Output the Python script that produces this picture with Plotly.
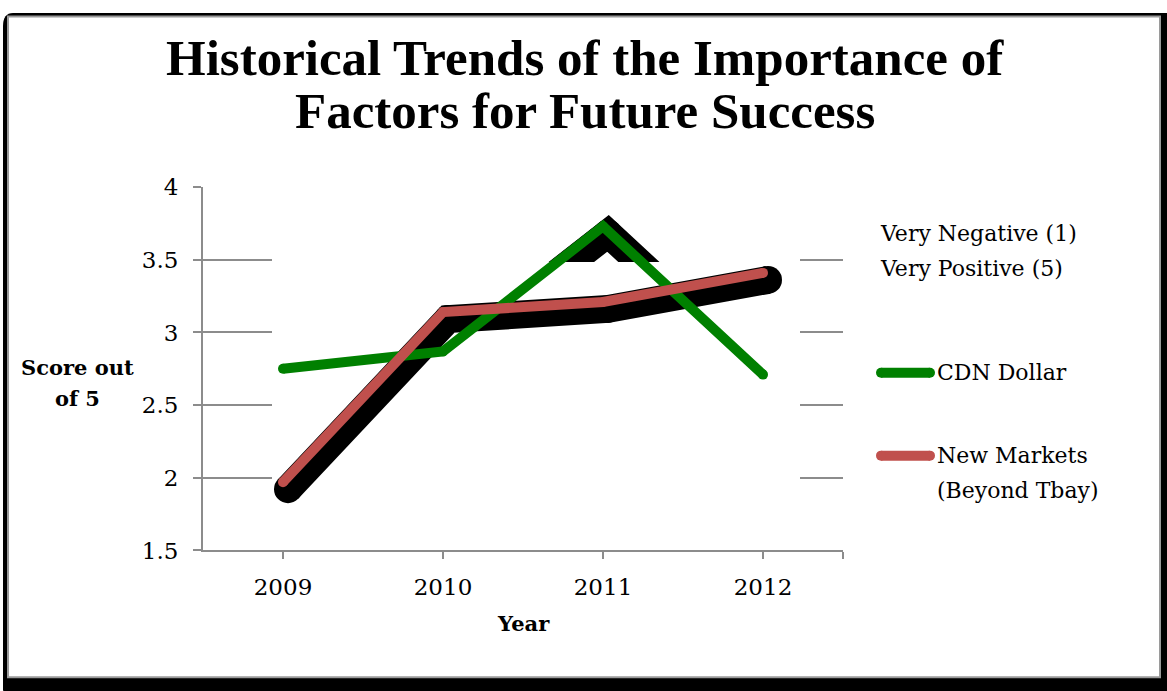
import plotly.graph_objects as go

# ---- data ----
years = [2009, 2010, 2011, 2012]
cdn_dollar = [2.75, 2.87, 3.73, 2.71]
new_markets = [1.97, 3.14, 3.21, 3.41]
y_tick_vals = [1.5, 2, 2.5, 3, 3.5, 4]
y_tick_text = ["1.5", "2", "2.5", "3", "3.5", "4"]
x_tick_text = ["2009", "2010", "2011", "2012"]
series_names = ["CDN Dollar", "New Markets", "(Beyond Tbay)"]
scale_note = ["Very Negative (1)", "Very Positive (5)"]
title_lines = ["Historical Trends of the Importance of", "Factors for Future Success"]

# ---- geometry ----
# positions below are given in screen pixels; SCREEN_Y_OFF / SCREEN_Y_SCALE
# convert a screen row into a row of the figure canvas
W = 1167
FIG_H = 705
SCREEN_Y_OFF = 12.5
SCREEN_Y_SCALE = 0.965
PL, PR, PT, PB = 203, 843, 187, 551
X_RANGE = [2008.5, 2012.5]
Y_RANGE = [1.5, 4.0]

GREEN = "#008000"
RED = "#C0504D"
GRAY = "#8C8C8C"
SERIF = "DejaVu Serif"
SERIF_TITLE = "Liberation Serif"


def px(x):
    return x / W


def py(y):
    fig_row = (y - SCREEN_Y_OFF) / SCREEN_Y_SCALE
    return min(1.0, 1 - fig_row / FIG_H)


x_per_px = (X_RANGE[1] - X_RANGE[0]) / (PR - PL)
y_per_px = (Y_RANGE[1] - Y_RANGE[0]) / (PB - PT)

# drop shadow: offset right and down, wider than the line
SH_DX, SH_DY = 5 * x_per_px, -7 * y_per_px
SH_W = 28
LINE_W = 10
shadow_x = [x + SH_DX for x in years]
cdn_shadow_y = [v + SH_DY for v in cdn_dollar]
nm_shadow_y = [v + SH_DY for v in new_markets]

# the CDN Dollar shadow only shows above this level
clip_px = 262
clip_val = Y_RANGE[1] - (clip_px - PT) * y_per_px

fig = go.Figure()

# shadow under New Markets
fig.add_trace(go.Scatter(
    x=shadow_x, y=nm_shadow_y, mode="lines+markers",
    line=dict(color="black", width=SH_W), marker=dict(color="black", size=SH_W),
    hoverinfo="skip", showlegend=False, xaxis="x", yaxis="y"))
# CDN Dollar
fig.add_trace(go.Scatter(
    x=years, y=cdn_dollar, mode="lines+markers", name="CDN Dollar",
    line=dict(color=GREEN, width=LINE_W), marker=dict(color=GREEN, size=LINE_W),
    showlegend=False, xaxis="x", yaxis="y"))
# New Markets
fig.add_trace(go.Scatter(
    x=years, y=new_markets, mode="lines+markers", name="New Markets (Beyond Tbay)",
    line=dict(color=RED, width=LINE_W), marker=dict(color=RED, size=LINE_W),
    showlegend=False, xaxis="x", yaxis="y"))

# upper band: CDN Dollar shadow (clipped) with the line redrawn on top
fig.add_trace(go.Scatter(
    x=shadow_x, y=cdn_shadow_y, mode="lines+markers",
    line=dict(color="black", width=SH_W), marker=dict(color="black", size=SH_W),
    hoverinfo="skip", showlegend=False, xaxis="x2", yaxis="y2"))
fig.add_trace(go.Scatter(
    x=years, y=cdn_dollar, mode="lines+markers",
    line=dict(color=GREEN, width=LINE_W), marker=dict(color=GREEN, size=LINE_W),
    hoverinfo="skip", showlegend=False, xaxis="x2", yaxis="y2"))

shapes = []
# outer frame: black backing with rounded left corners, white panel with grey edge
r = 10
x0, y0, x1, y1 = 3, 0, W, 700
frame_path = (
    f"M {px(x0 + r)},{py(y0)} L {px(x1)},{py(y0)} L {px(x1)},{py(y1)} "
    f"L {px(x0 + r)},{py(y1)} Q {px(x0)},{py(y1)} {px(x0)},{py(y1 - r)} "
    f"L {px(x0)},{py(16 + r)} Q {px(x0)},{py(y0)} {px(x0 + r)},{py(y0)} Z"
)
shapes.append(dict(type="path", path=frame_path, xref="paper", yref="paper",
                   fillcolor="black", line=dict(width=0), layer="below"))
shapes.append(dict(type="rect", xref="paper", yref="paper",
                   x0=px(8), x1=px(1160), y0=py(678), y1=py(16),
                   fillcolor="white", line=dict(color="#9A9A9A", width=2),
                   layer="below"))

# blank panel over the middle of the gridlines
shapes.append(dict(type="rect", xref="x", yref="y",
                   x0=X_RANGE[0] + (272 - PL) * x_per_px,
                   x1=X_RANGE[0] + (800 - PL) * x_per_px,
                   y0=1.62, y1=3.85, fillcolor="white",
                   line=dict(width=0), layer="between"))

# legend keys
for y_key, col in [(373, GREEN), (456, RED)]:
    shapes.append(dict(type="line", xref="paper", yref="paper",
                       x0=px(881), x1=px(930), y0=py(y_key), y1=py(y_key),
                       line=dict(color=col, width=10)))
    for xc in (881, 930):
        shapes.append(dict(type="circle", xref="paper", yref="paper",
                           xsizemode="pixel", ysizemode="pixel",
                           xanchor=px(xc), yanchor=py(y_key),
                           x0=-5, x1=5, y0=-5, y1=5,
                           fillcolor=col, line=dict(width=0)))

annotations = [
    dict(text=f"<b>{title_lines[0]}</b>", x=px(585), y=py(58),
         font=dict(family=SERIF_TITLE, size=51, color="black")),
    dict(text=f"<b>{title_lines[1]}</b>", x=px(585), y=py(111),
         font=dict(family=SERIF_TITLE, size=51, color="black")),
    dict(text="<b>Score out</b>", x=px(77), y=py(368),
         font=dict(family=SERIF, size=21, color="black")),
    dict(text="<b>of 5</b>", x=px(77), y=py(399),
         font=dict(family=SERIF, size=21, color="black")),
    dict(text="<b>Year</b>", x=px(523), y=py(624),
         font=dict(family=SERIF, size=21, color="black")),
    dict(text=scale_note[0], x=px(878), y=py(233), xanchor="left",
         font=dict(family=SERIF, size=22, color="black")),
    dict(text=scale_note[1], x=px(878), y=py(268), xanchor="left",
         font=dict(family=SERIF, size=22, color="black")),
    dict(text=series_names[0], x=px(935), y=py(373), xanchor="left",
         font=dict(family=SERIF, size=22, color="black")),
    dict(text=series_names[1], x=px(935), y=py(456), xanchor="left",
         font=dict(family=SERIF, size=22, color="black")),
    dict(text=series_names[2], x=px(935), y=py(491), xanchor="left",
         font=dict(family=SERIF, size=22, color="black")),
]
for a in annotations:
    a.update(xref="paper", yref="paper", showarrow=False, yanchor="middle")
    a.setdefault("xanchor", "center")

x_dom = [px(PL), px(PR)]
tick_positions = years + [X_RANGE[1]]

fig.update_layout(
    width=W, height=FIG_H,
    margin=dict(l=0, r=0, t=0, b=0),
    paper_bgcolor="white", plot_bgcolor="rgba(0,0,0,0)",
    font=dict(family=SERIF, size=22, color="black"),
    showlegend=False,
    xaxis=dict(domain=x_dom, range=X_RANGE, tickvals=tick_positions,
               ticktext=x_tick_text + [""], ticks="outside", ticklen=7,
               tickwidth=2, tickcolor=GRAY, showline=True, linecolor=GRAY,
               linewidth=2, showgrid=False, zeroline=False,
               ticklabelstandoff=8, tickfont=dict(size=23), fixedrange=True),
    xaxis3=dict(overlaying="x", anchor="y", range=X_RANGE,
                tickvals=tick_positions, ticks="inside", ticklen=7, tickwidth=2,
                tickcolor=GRAY, showticklabels=False, showline=False,
                showgrid=False, zeroline=False),
    yaxis=dict(domain=[py(PB), py(PT)], range=Y_RANGE, tickvals=y_tick_vals,
               ticktext=y_tick_text, ticks="outside", ticklen=8, tickwidth=2,
               tickcolor=GRAY, showline=True, linecolor=GRAY, linewidth=2,
               showgrid=True, gridcolor=GRAY, gridwidth=2, zeroline=False,
               ticklabelstandoff=10, tickfont=dict(size=23), fixedrange=True),
    xaxis2=dict(domain=x_dom, range=X_RANGE, visible=False, anchor="y2"),
    yaxis2=dict(domain=[py(clip_px), py(PT)], range=[clip_val, Y_RANGE[1]],
                visible=False, anchor="x2"),
    shapes=shapes,
    annotations=annotations,
)

fig.write_html("out.html", config={"displayModeBar": False})
